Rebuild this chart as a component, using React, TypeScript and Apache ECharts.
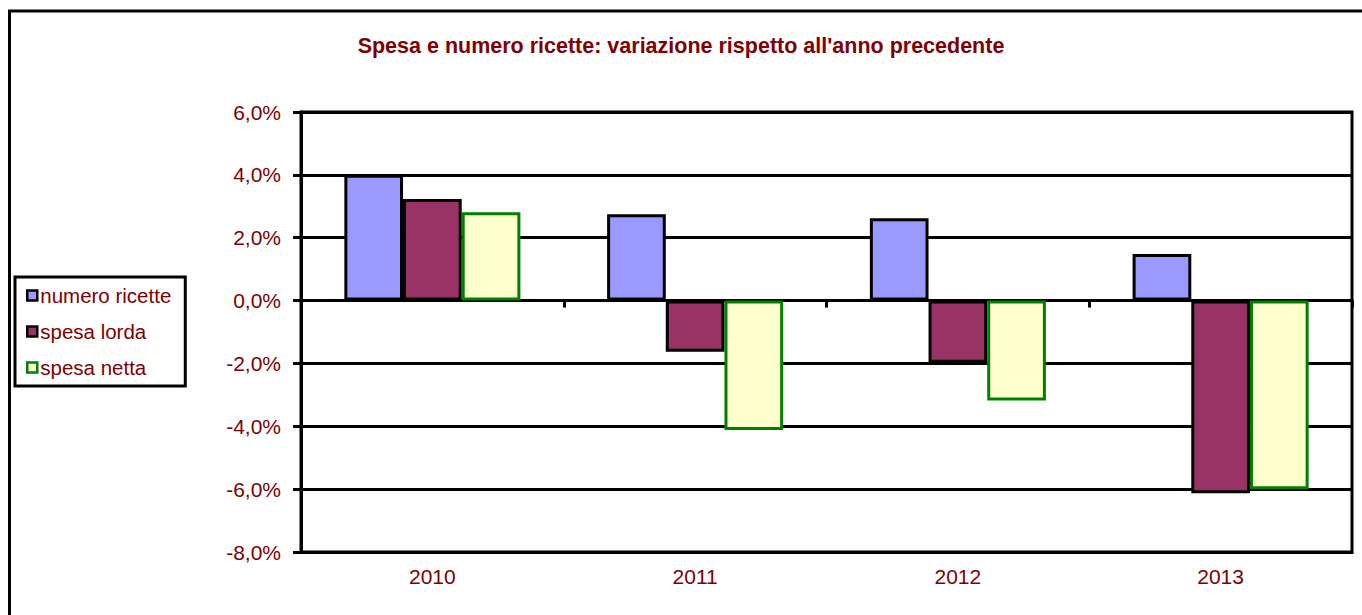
import React, { useEffect, useRef } from "react";
import * as echarts from "echarts";

const categories = ["2010", "2011", "2012", "2013"];
const numeroRicette = [4.0, 2.75, 2.62, 1.48];
const spesaLorda = [3.23, -1.63, -1.98, -6.13];
const spesaNetta = [2.81, -4.12, -3.18, -6.0];
const seriesNames = ["numero ricette", "spesa lorda", "spesa netta"];
const titleText = "Spesa e numero ricette: variazione rispetto all'anno precedente";

const RED = "#800000";
const FONT = "Liberation Sans, Arial, sans-serif";

export default function App() {
  const ref = useRef<HTMLDivElement>(null);
  useEffect(() => {
    if (!ref.current) return;
    const chart = echarts.init(ref.current, undefined, { renderer: "svg" });
    const fmt = (v: number) => v.toFixed(1).replace(".", ",") + "%";
    chart.setOption({
      animation: false,
      backgroundColor: "#fff",
      textStyle: { fontFamily: FONT },
      title: {
        text: titleText,
        left: "center",
        top: 30,
        textStyle: { color: RED, fontSize: 21.5, fontWeight: "bold", fontFamily: FONT },
      },
      legend: {
        orient: "vertical",
        left: 15,
        top: 277,
        data: seriesNames,
        icon: "rect",
        itemWidth: 10,
        itemHeight: 10,
        itemGap: 15,
        padding: [8, 14, 8, 11],
        borderColor: "#000",
        borderWidth: 3,
        backgroundColor: "#fff",
        itemStyle: { borderWidth: 2.5 },
        textStyle: { color: RED, fontSize: 20.5, lineHeight: 20, fontFamily: FONT, padding: [0, 0, 0, -2] },
      },
      grid: {
        left: 301,
        right: 10,
        top: 112,
        bottom: 63,
        show: true,
        borderColor: "#000",
        borderWidth: 3,
        containLabel: false,
      },
      xAxis: [
        {
          type: "category",
          data: categories,
          position: "bottom",
          axisLine: { onZero: false, show: true, lineStyle: { color: "#000", width: 3 } },
          axisTick: { show: false },
          axisLabel: { color: RED, fontSize: 21, margin: 14, fontFamily: FONT },
          splitLine: { show: false },
        },
        {
          type: "category",
          data: categories,
          position: "bottom",
          axisLine: { onZero: true, onZeroAxisIndex: 0, show: true, lineStyle: { color: "#000", width: 3 } },
          axisTick: { show: true, length: 7, inside: false, lineStyle: { color: "#000", width: 3 } },
          axisLabel: { show: false },
          splitLine: { show: false },
        },
      ],
      yAxis: {
        type: "value",
        min: -8,
        max: 6,
        interval: 2,
        axisLine: { show: true, lineStyle: { color: "#000", width: 3 } },
        axisTick: { show: true, length: 8, lineStyle: { color: "#000", width: 3 } },
        axisLabel: { color: RED, fontSize: 21, margin: 20, fontFamily: FONT, formatter: fmt },
        splitLine: { show: true, lineStyle: { color: "#000", width: 3 } },
      },
      series: [
        {
          name: seriesNames[0],
          type: "bar",
          data: numeroRicette,
          barGap: "0%",
          barCategoryGap: "33%",
          itemStyle: { color: "#9999FF", borderColor: "#000", borderWidth: 3 },
        },
        {
          name: seriesNames[1],
          type: "bar",
          data: spesaLorda,
          barGap: "0%",
          barCategoryGap: "33%",
          itemStyle: { color: "#993366", borderColor: "#000", borderWidth: 3 },
        },
        {
          name: seriesNames[2],
          type: "bar",
          data: spesaNetta,
          barGap: "0%",
          barCategoryGap: "33%",
          itemStyle: { color: "#FFFFCC", borderColor: "#008000", borderWidth: 3 },
        },
      ],
      graphic: [
        {
          type: "rect",
          silent: true,
          shape: { x: 9.5, y: 11, width: 2000, height: 2000 },
          style: { fill: "none", stroke: "#000", lineWidth: 3 },
          z: 100,
        },
      ],
    });
    return () => chart.dispose();
  }, []);
  return (
    <div
      ref={ref}
      style={{ position: "absolute", left: 0, top: 0, width: 1362, height: 615 }}
    />
  );
}
